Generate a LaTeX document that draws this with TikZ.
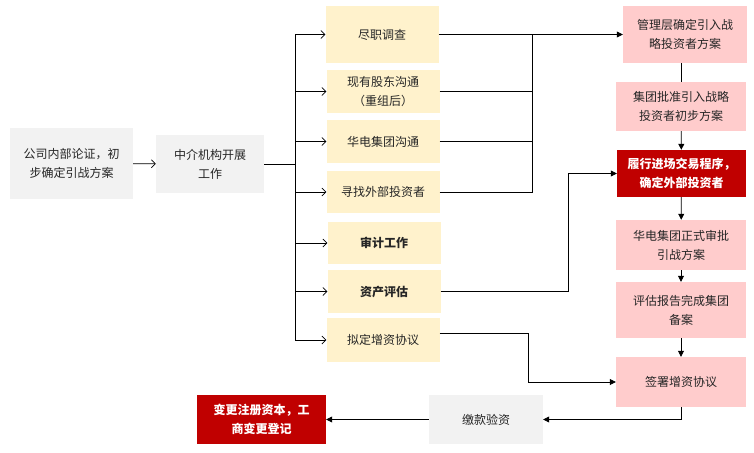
\documentclass[tikz,border=0pt]{standalone}
\usepackage{fontspec}
\setmainfont{Noto Sans CJK SC}
\usetikzlibrary{arrows.meta, positioning, calc}
\definecolor{boxgray}{RGB}{242,242,242}
\definecolor{boxyellow}{RGB}{255,242,204}
\definecolor{boxpink}{RGB}{255,204,204}
\definecolor{boxred}{RGB}{192,0,0}

\begin{document}
\begin{tikzpicture}[x=1pt, y=-1pt,
  base/.style={inner sep=0pt, align=center, font=\fontsize{12}{19}\selectfont, text=black!85},
  gbox/.style={base, fill=boxgray},
  ybox/.style={base, fill=boxyellow, minimum width=113pt},
  pbox/.style={base, fill=boxpink, minimum width=130pt},
  rbox/.style={base, fill=boxred, text=white, font=\fontsize{12}{19}\selectfont\bfseries},
  oarr/.style={-{Straight Barb[length=4pt,width=8pt]}, line width=0.7pt},
  farr/.style={-{Triangle[length=6pt,width=6pt]}, line width=0.7pt},
  ln/.style={line width=0.7pt}
]
  \useasboundingbox (0,0) rectangle (754,452);

  % start
  \node[gbox, minimum width=123pt, minimum height=71pt] (lunzheng) at (71.5,163.5) {公司内部论证，初\\步确定引战方案};
  \node[gbox, minimum width=108pt, minimum height=58pt] (zhongjie) at (210,164) {中介机构开展\\工作};

  % work items
  \node[ybox, minimum height=57pt] (jinzhi) at (382,34.5) {尽职调查};
  \node[ybox, minimum height=43pt] (xianyou) at (383,91.5) {现有股东沟通\\（重组后）};
  \node[ybox, minimum height=43pt] (huadian) at (383,141.5) {华电集团沟通};
  \node[ybox, minimum height=42pt] (xunzhao) at (383,192) {寻找外部投资者};
  \node[ybox, minimum height=42pt, font=\fontsize{12}{19}\selectfont\bfseries] (shenji) at (384,243) {审计工作};
  \node[ybox, minimum height=43pt, font=\fontsize{12}{19}\selectfont\bfseries] (zichan) at (384,291.5) {资产评估};
  \node[ybox, minimum height=44pt] (niding) at (383,340) {拟定增资协议};

  % approval chain
  \node[pbox, minimum width=124pt, minimum height=57pt] (guanli) at (685,34.5) {管理层确定引入战\\略投资者方案};
  \node[pbox, minimum height=49pt] (pizhun) at (681,106.5) {集团批准引入战略\\投资者初步方案};
  \node[rbox, minimum width=129pt, minimum height=47pt] (lvxing) at (681.5,173.5) {履行进场交易程序，\\确定外部投资者};
  \node[pbox, minimum height=50pt] (zhengshi) at (681,245) {华电集团正式审批\\引战方案};
  \node[pbox, minimum height=56pt] (beian) at (681,310) {评估报告完成集团\\备案};
  \node[pbox, minimum height=50pt] (qianshu) at (681,382) {签署增资协议};

  % bottom row
  \node[gbox, minimum width=114pt, minimum height=49pt] (jiaokuan) at (486,419.5) {缴款验资};
  \node[rbox, minimum width=129pt, minimum height=49pt] (biangeng) at (261.5,419.5) {变更注册资本，工\\商变更登记};

  \coordinate (trunk) at (295,164);
  \coordinate (hub) at (532,35);
  \coordinate (c1) at (568,291.5);
  \coordinate (c2) at (528,333);

  \draw[oarr] (lunzheng) -- (zhongjie);
  \draw[ln] (zhongjie.east) -- (trunk);
  \foreach \n in {jinzhi, xianyou, huadian, xunzhao, shenji, zichan, niding}
    \draw[oarr] (trunk) |- (\n.west);

  % into management
  \draw[farr] (jinzhi.east) -- (guanli.west);
  \foreach \n in {xianyou, huadian, xunzhao}
    \draw[ln] (\n.east) -| (hub);

  \draw[farr] (zichan.east) -- (c1) |- (lvxing.west);
  \draw[farr] ([yshift=7pt]niding.east) -- (c2) |- (qianshu.west);

  \draw[ln] (pizhun.north |- guanli.south) -- (pizhun.north);
  \draw[farr] (pizhun) -- (lvxing);
  \draw[farr] (lvxing) -- (zhengshi);
  \draw[farr] (zhengshi) -- (beian);
  \draw[farr] (beian) -- (qianshu);
  \draw[farr] (qianshu.south) |- (jiaokuan.east);
  \draw[farr] (jiaokuan) -- (biangeng);
\end{tikzpicture}
\end{document}
